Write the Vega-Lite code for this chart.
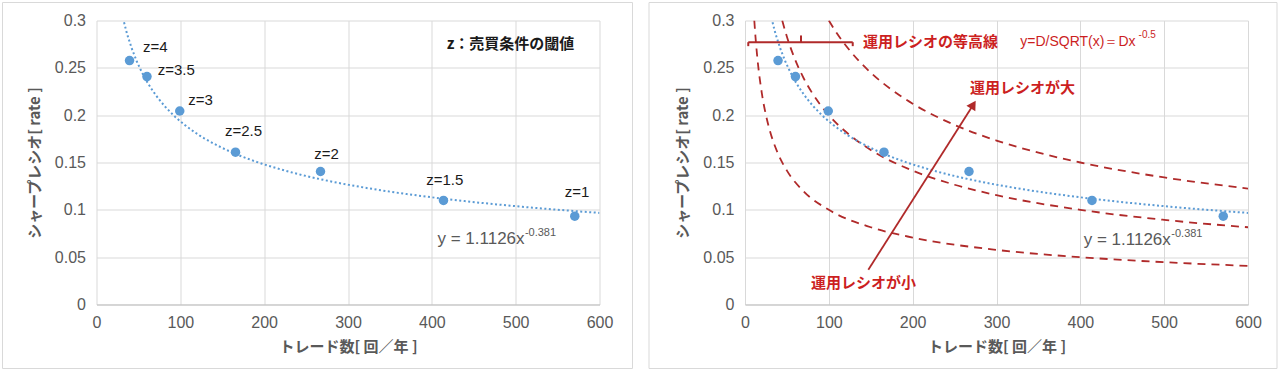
{
  "$schema": "https://vega.github.io/schema/vega-lite/v6.json",
  "autosize": {"type": "pad"},
  "padding": {"left": 1.5, "top": 1.5, "right": 0, "bottom": 0},
  "background": "white",
  "spacing": 14.5,
  "config": {
    "view": {"stroke": null},
    "axis": {
      "labelFont": "Liberation Sans",
      "labelFontSize": 16,
      "labelColor": "#595959",
      "labelFlush": false,
      "titleFont": "Noto Sans CJK JP",
      "titleFontSize": 15,
      "titleFontWeight": "bold",
      "titleColor": "#595959",
      "grid": true,
      "gridColor": "#d9d9d9",
      "ticks": false,
      "domain": false
    }
  },
  "datasets": {
    "pts": [
      {"x": 39.4, "y": 0.2577},
      {"x": 60.2, "y": 0.2408},
      {"x": 99.3, "y": 0.2044},
      {"x": 165.8, "y": 0.1609},
      {"x": 267.2, "y": 0.1405},
      {"x": 413.9, "y": 0.1099},
      {"x": 570.5, "y": 0.0933}
    ],
    "zlab": [
      {"x": 70.0, "y": 0.2718, "t": "z=4"},
      {"x": 95.2, "y": 0.2479, "t": "z=3.5"},
      {"x": 124.0, "y": 0.2165, "t": "z=3"},
      {"x": 175.3, "y": 0.1831, "t": "z=2.5"},
      {"x": 274.4, "y": 0.1595, "t": "z=2"},
      {"x": 415.5, "y": 0.1310, "t": "z=1.5"},
      {"x": 573.2, "y": 0.1186, "t": "z=1"}
    ],
    "frameL": [{"x": -112.1, "x2": 639.4, "y": -0.0676, "y2": 0.319}],
    "frameR": [{"x": -114.5, "x2": 634.6, "y": -0.0676, "y2": 0.319}],
    "contour": [
      {"D": "1", "x": 11.1, "y": 0.3},
      {"D": "1", "x": 12.5, "y": 0.2828},
      {"D": "1", "x": 15, "y": 0.2582},
      {"D": "1", "x": 20, "y": 0.2236},
      {"D": "1", "x": 25, "y": 0.2},
      {"D": "1", "x": 30, "y": 0.1826},
      {"D": "1", "x": 40, "y": 0.1581},
      {"D": "1", "x": 50, "y": 0.1414},
      {"D": "1", "x": 70, "y": 0.1195},
      {"D": "1", "x": 100, "y": 0.1},
      {"D": "1", "x": 150, "y": 0.0816},
      {"D": "1", "x": 200, "y": 0.0707},
      {"D": "1", "x": 300, "y": 0.0577},
      {"D": "1", "x": 400, "y": 0.05},
      {"D": "1", "x": 500, "y": 0.0447},
      {"D": "1", "x": 600, "y": 0.0408},
      {"D": "2", "x": 44.4, "y": 0.3},
      {"D": "2", "x": 50, "y": 0.2828},
      {"D": "2", "x": 60, "y": 0.2582},
      {"D": "2", "x": 70, "y": 0.239},
      {"D": "2", "x": 80, "y": 0.2236},
      {"D": "2", "x": 100, "y": 0.2},
      {"D": "2", "x": 125, "y": 0.1789},
      {"D": "2", "x": 150, "y": 0.1633},
      {"D": "2", "x": 200, "y": 0.1414},
      {"D": "2", "x": 250, "y": 0.1265},
      {"D": "2", "x": 300, "y": 0.1155},
      {"D": "2", "x": 400, "y": 0.1},
      {"D": "2", "x": 500, "y": 0.0894},
      {"D": "2", "x": 600, "y": 0.0816},
      {"D": "3", "x": 100, "y": 0.3},
      {"D": "3", "x": 110, "y": 0.286},
      {"D": "3", "x": 125, "y": 0.2683},
      {"D": "3", "x": 150, "y": 0.2449},
      {"D": "3", "x": 175, "y": 0.2268},
      {"D": "3", "x": 200, "y": 0.2121},
      {"D": "3", "x": 250, "y": 0.1897},
      {"D": "3", "x": 300, "y": 0.1732},
      {"D": "3", "x": 350, "y": 0.1604},
      {"D": "3", "x": 400, "y": 0.15},
      {"D": "3", "x": 500, "y": 0.1342},
      {"D": "3", "x": 600, "y": 0.1225}
    ],
    "bracket": [
      {"x": 3.9, "x2": 128.5, "y": 0.2771, "y2": 0.2771},
      {"x": 3.9, "x2": 3.9, "y": 0.2771, "y2": 0.2729},
      {"x": 66.8, "x2": 66.8, "y": 0.2771, "y2": 0.2842},
      {"x": 128.5, "x2": 128.5, "y": 0.2771, "y2": 0.2729}
    ],
    "arrow": [
      {"x": 147.1, "y": 0.0367},
      {"x": 272.3, "y": 0.2111}
    ],
    "arrowHead": [{"x": 272.3, "y": 0.2111}],
    "redBold": [
      {"x": 140.8, "y": 0.2771, "t": "運用レシオの等高線"},
      {"x": 268.4, "y": 0.2282, "t": "運用レシオが大"},
      {"x": 78.7, "y": 0.0222, "t": "運用レシオが小"}
    ],
    "redFormula": [{"x": 328.4, "y": 0.2771, "t": "y=D/SQRT(x)＝Dx"}],
    "redSup": [{"x": 469.5, "y": 0.2845, "t": "-0.5"}],
    "eqL": [{"x": 406.7, "y": 0.0694, "t": "y = 1.1126x"}],
    "eqLsup": [{"x": 511.0, "y": 0.0755, "t": "-0.381"}],
    "eqR": [{"x": 404.0, "y": 0.0683, "t": "y = 1.1126x"}],
    "eqRsup": [{"x": 508.5, "y": 0.0745, "t": "-0.381"}],
    "head": [{"x": 493.8, "y": 0.2754, "t": "z：売買条件の閾値"}]
  },
  "hconcat": [
    {
      "width": 503,
      "height": 284,
      "encoding": {
        "x": {"field": "x", "type": "quantitative",
              "scale": {"domain": [0, 600], "nice": false, "zero": false},
              "axis": {"title": "トレード数[ 回／年 ]", "values": [0, 100, 200, 300, 400, 500, 600], "labelPadding": 10, "titlePadding": 9, "domain": true, "domainColor": "#bfbfbf"}},
        "y": {"field": "y", "type": "quantitative",
              "scale": {"domain": [0, 0.3], "nice": false, "zero": false},
              "axis": {"title": "シャープレシオ[ rate ]", "values": [0, 0.05, 0.1, 0.15, 0.2, 0.25, 0.3], "format": "~g", "labelPadding": 11, "titlePadding": 12}}
      },
      "layer": [
        {"data": {"name": "frameL"}, "mark": {"type": "rect", "fillOpacity": 0, "stroke": "#d9d9d9", "strokeWidth": 1, "clip": false},
         "encoding": {"x2": {"field": "x2"}, "y2": {"field": "y2"}}},
        {"data": {"name": "pts"}, "transform": [{"regression": "y", "on": "x", "method": "pow", "extent": [25, 600]}],
         "mark": {"type": "line", "color": "#5b9bd5", "strokeWidth": 2, "strokeDash": [2, 2.5], "clip": true}},
        {"data": {"name": "pts"}, "mark": {"type": "point", "filled": true, "color": "#5b9bd5", "opacity": 1, "size": 90}},
        {"data": {"name": "zlab"}, "mark": {"type": "text", "font": "Liberation Sans", "fontSize": 15, "color": "#1a1a1a", "align": "center", "baseline": "middle"},
         "encoding": {"text": {"field": "t"}}},
        {"data": {"name": "head"}, "mark": {"type": "text", "font": "Noto Sans CJK JP", "fontSize": 15, "fontWeight": "bold", "color": "#1a1a1a", "align": "center", "baseline": "middle"},
         "encoding": {"text": {"field": "t"}}},
        {"data": {"name": "eqL"}, "mark": {"type": "text", "font": "Liberation Sans", "fontSize": 17, "color": "#595959", "align": "left", "baseline": "middle"},
         "encoding": {"text": {"field": "t"}}},
        {"data": {"name": "eqLsup"}, "mark": {"type": "text", "font": "Liberation Sans", "fontSize": 11, "color": "#595959", "align": "left", "baseline": "middle"},
         "encoding": {"text": {"field": "t"}}}
      ]
    },
    {
      "width": 503,
      "height": 284,
      "encoding": {
        "x": {"field": "x", "type": "quantitative",
              "scale": {"domain": [0, 600], "nice": false, "zero": false},
              "axis": {"title": "トレード数[ 回／年 ]", "values": [0, 100, 200, 300, 400, 500, 600], "labelPadding": 10, "titlePadding": 9, "domain": true, "domainColor": "#bfbfbf"}},
        "y": {"field": "y", "type": "quantitative",
              "scale": {"domain": [0, 0.3], "nice": false, "zero": false},
              "axis": {"title": "シャープレシオ[ rate ]", "values": [0, 0.05, 0.1, 0.15, 0.2, 0.25, 0.3], "format": "~g", "labelPadding": 11, "titlePadding": 12}}
      },
      "layer": [
        {"data": {"name": "frameR"}, "mark": {"type": "rect", "fillOpacity": 0, "stroke": "#d9d9d9", "strokeWidth": 1, "clip": false},
         "encoding": {"x2": {"field": "x2"}, "y2": {"field": "y2"}}},
        {"data": {"name": "contour"}, "mark": {"type": "line", "color": "#b02a2a", "strokeWidth": 1.8, "strokeDash": [8, 6], "interpolate": "monotone", "clip": true},
         "encoding": {"detail": {"field": "D"}}},
        {"data": {"name": "pts"}, "transform": [{"regression": "y", "on": "x", "method": "pow", "extent": [25, 600]}],
         "mark": {"type": "line", "color": "#5b9bd5", "strokeWidth": 2, "strokeDash": [2, 2.5], "clip": true}},
        {"data": {"name": "pts"}, "mark": {"type": "point", "filled": true, "color": "#5b9bd5", "opacity": 1, "size": 90}},
        {"data": {"name": "bracket"}, "mark": {"type": "rule", "color": "#b02a2a", "strokeWidth": 2},
         "encoding": {"x2": {"field": "x2"}, "y2": {"field": "y2"}}},
        {"data": {"name": "arrow"}, "mark": {"type": "line", "color": "#b02a2a", "strokeWidth": 1.8}},
        {"data": {"name": "arrowHead"}, "mark": {"type": "point", "shape": "triangle-up", "angle": 32, "filled": true, "color": "#b02a2a", "opacity": 1, "size": 110}},
        {"data": {"name": "redBold"}, "mark": {"type": "text", "font": "Noto Sans CJK JP", "fontSize": 15, "fontWeight": "bold", "color": "#cc1f1f", "align": "left", "baseline": "middle"},
         "encoding": {"text": {"field": "t"}}},
        {"data": {"name": "redFormula"}, "mark": {"type": "text", "font": "Liberation Sans", "fontSize": 14, "color": "#cc1f1f", "align": "left", "baseline": "middle"},
         "encoding": {"text": {"field": "t"}}},
        {"data": {"name": "redSup"}, "mark": {"type": "text", "font": "Liberation Sans", "fontSize": 10, "color": "#cc1f1f", "align": "left", "baseline": "middle"},
         "encoding": {"text": {"field": "t"}}},
        {"data": {"name": "eqR"}, "mark": {"type": "text", "font": "Liberation Sans", "fontSize": 17, "color": "#595959", "align": "left", "baseline": "middle"},
         "encoding": {"text": {"field": "t"}}},
        {"data": {"name": "eqRsup"}, "mark": {"type": "text", "font": "Liberation Sans", "fontSize": 11, "color": "#595959", "align": "left", "baseline": "middle"},
         "encoding": {"text": {"field": "t"}}}
      ]
    }
  ]
}
